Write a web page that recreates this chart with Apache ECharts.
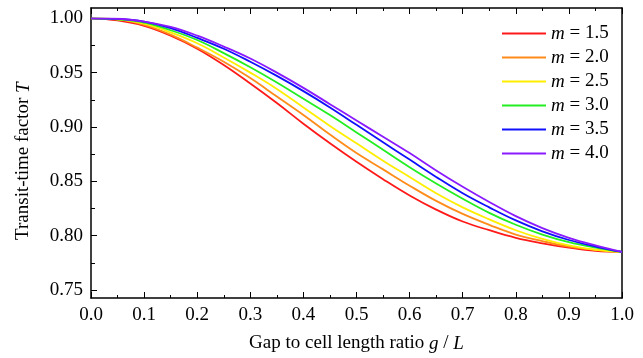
<!DOCTYPE html>
<html>
<head>
    <meta charset="utf-8">
    <title>Transit-time factor</title>
    <script src="https://cdn.jsdelivr.net/npm/echarts@6/dist/echarts.min.js"></script>
</head>
<body style="margin:0">
    <div id="main" style="width: 643px;height:358px;"></div>
    <script type="text/javascript">
        // g/L sample points
        var gL = [0, 0.05, 0.1, 0.15, 0.2, 0.25, 0.3, 0.35, 0.4, 0.45, 0.5,
                  0.55, 0.6, 0.65, 0.7, 0.75, 0.8, 0.85, 0.9, 0.95, 1.0];

        var names = ['m = 1.5', 'm = 2.0', 'm = 2.5', 'm = 3.0', 'm = 3.5', 'm = 4.0'];
        var colors = ['#ff1a1a', '#ff8c1a', '#ffee00', '#22ee22', '#1010ff', '#8a1aff'];

        var m15 = [1.000, 0.998, 0.993, 0.984, 0.972, 0.957, 0.940, 0.922, 0.903, 0.885, 0.868,
                   0.852, 0.837, 0.824, 0.813, 0.805, 0.798, 0.793, 0.789, 0.786, 0.785];
        var m20 = [1.000, 0.999, 0.994, 0.985, 0.973, 0.960, 0.945, 0.928, 0.911, 0.893, 0.876,
                   0.861, 0.846, 0.832, 0.820, 0.810, 0.801, 0.795, 0.790, 0.787, 0.785];
        var m25 = [1.000, 0.999, 0.995, 0.987, 0.977, 0.964, 0.950, 0.935, 0.918, 0.901, 0.885,
                   0.869, 0.854, 0.839, 0.826, 0.815, 0.805, 0.797, 0.791, 0.787, 0.785];
        var m30 = [1.000, 0.999, 0.996, 0.989, 0.980, 0.968, 0.955, 0.941, 0.926, 0.911, 0.895,
                   0.879, 0.863, 0.848, 0.834, 0.821, 0.810, 0.801, 0.794, 0.789, 0.785];
        var m35 = [1.000, 0.9995, 0.997, 0.991, 0.982, 0.972, 0.960, 0.947, 0.933, 0.918, 0.902,
                   0.886, 0.870, 0.854, 0.839, 0.826, 0.814, 0.804, 0.796, 0.790, 0.785];
        var m40 = [1.000, 0.9996, 0.997, 0.992, 0.984, 0.974, 0.963, 0.950, 0.936, 0.921, 0.906,
                   0.891, 0.876, 0.860, 0.845, 0.831, 0.818, 0.807, 0.798, 0.791, 0.785];
        var curves = [m15, m20, m25, m30, m35, m40];

        var font = "'Liberation Serif', 'Times New Roman', serif";
        var fs = 19;

        function pairs(ys) {
            return gL.map(function (x, i) { return [x, ys[i]]; });
        }

        var series = curves.map(function (ys, k) {
            return {
                name: names[k],
                type: 'line',
                xAxisIndex: 2,
                yAxisIndex: 2,
                showSymbol: false,
                smooth: 0.4,
                color: colors[k],
                lineStyle: { width: 1.8, color: colors[k] },
                data: pairs(ys)
            };
        });

        var tickStyle = { color: '#000', width: 1 };
        var italic = { fontFamily: font, fontSize: fs, fontStyle: 'italic', color: '#000' };
        var myChart = echarts.init(document.getElementById('main'));
        var option = {
            animation: false,
            backgroundColor: '#fff',
            textStyle: { fontFamily: font },
            grid: [
                // frame
                { left: 91, right: 21, top: 8, bottom: 58 },
                // data area (0.75 .. 1.00)
                { left: 91, right: 21, top: 18.3, bottom: 68 }
            ],
            legend: {
                orient: 'vertical',
                left: 497,
                top: 19,
                icon: 'rect',
                itemWidth: 44,
                itemHeight: 2,
                itemGap: 5,
                data: names,
                formatter: function (n) { return '{i|m}' + n.slice(1); },
                textStyle: {
                    fontFamily: font, fontSize: fs, color: '#000', lineHeight: 19,
                    rich: { i: italic }
                }
            },
            xAxis: [
                {
                    gridIndex: 0, type: 'value', min: 0, max: 1, interval: 0.1,
                    position: 'bottom',
                    name: 'Gap to cell length ratio {i|g} / {i|L}',
                    nameLocation: 'middle', nameGap: 36,
                    nameTextStyle: {
                        fontFamily: font, fontSize: fs, color: '#000',
                        rich: { i: italic }
                    },
                    axisLine: { onZero: false, lineStyle: { color: '#000', width: 1.5 } },
                    axisTick: { inside: true, length: 6, lineStyle: tickStyle },
                    minorTick: { show: true, splitNumber: 2, length: 3, lineStyle: tickStyle },
                    axisLabel: {
                        margin: 8, color: '#000', fontFamily: font, fontSize: fs,
                        formatter: function (v) { return v.toFixed(1); }
                    },
                    splitLine: { show: false }
                },
                {
                    gridIndex: 0, type: 'value', min: 0, max: 1, interval: 0.1,
                    position: 'top',
                    axisLine: { onZero: false, lineStyle: { color: '#000', width: 1.5 } },
                    axisTick: { inside: true, length: 6, lineStyle: tickStyle },
                    minorTick: { show: true, splitNumber: 2, length: 3, lineStyle: tickStyle },
                    axisLabel: { show: false },
                    splitLine: { show: false }
                },
                {
                    gridIndex: 1, type: 'value', min: 0, max: 1, show: false
                }
            ],
            yAxis: [
                {
                    gridIndex: 0, type: 'value', min: 0, max: 1, position: 'left',
                    axisLine: { show: true, onZero: false, lineStyle: { color: '#000', width: 1.5 } },
                    axisTick: { show: false }, axisLabel: { show: false }, splitLine: { show: false }
                },
                {
                    gridIndex: 0, type: 'value', min: 0, max: 1, position: 'right',
                    axisLine: { show: true, onZero: false, lineStyle: { color: '#000', width: 1.5 } },
                    axisTick: { show: false }, axisLabel: { show: false }, splitLine: { show: false }
                },
                {
                    gridIndex: 1, type: 'value', min: 0.75, max: 1.0, interval: 0.05,
                    position: 'left',
                    name: 'Transit-time factor {i|T}',
                    nameLocation: 'middle', nameGap: 58,
                    nameTextStyle: {
                        fontFamily: font, fontSize: fs, color: '#000',
                        padding: [0, 14, 0, 0],
                        rich: { i: italic }
                    },
                    axisLine: { show: false, onZero: false },
                    axisTick: { inside: true, length: 6, lineStyle: tickStyle },
                    minorTick: { show: true, splitNumber: 2, length: 4, lineStyle: tickStyle },
                    axisLabel: {
                        margin: 8, color: '#000', fontFamily: font, fontSize: fs,
                        formatter: function (v) { return v.toFixed(2); }
                    },
                    splitLine: { show: false }
                }
            ],
            series: series
        };
        myChart.setOption(option);
    </script>
</body>
</html>
